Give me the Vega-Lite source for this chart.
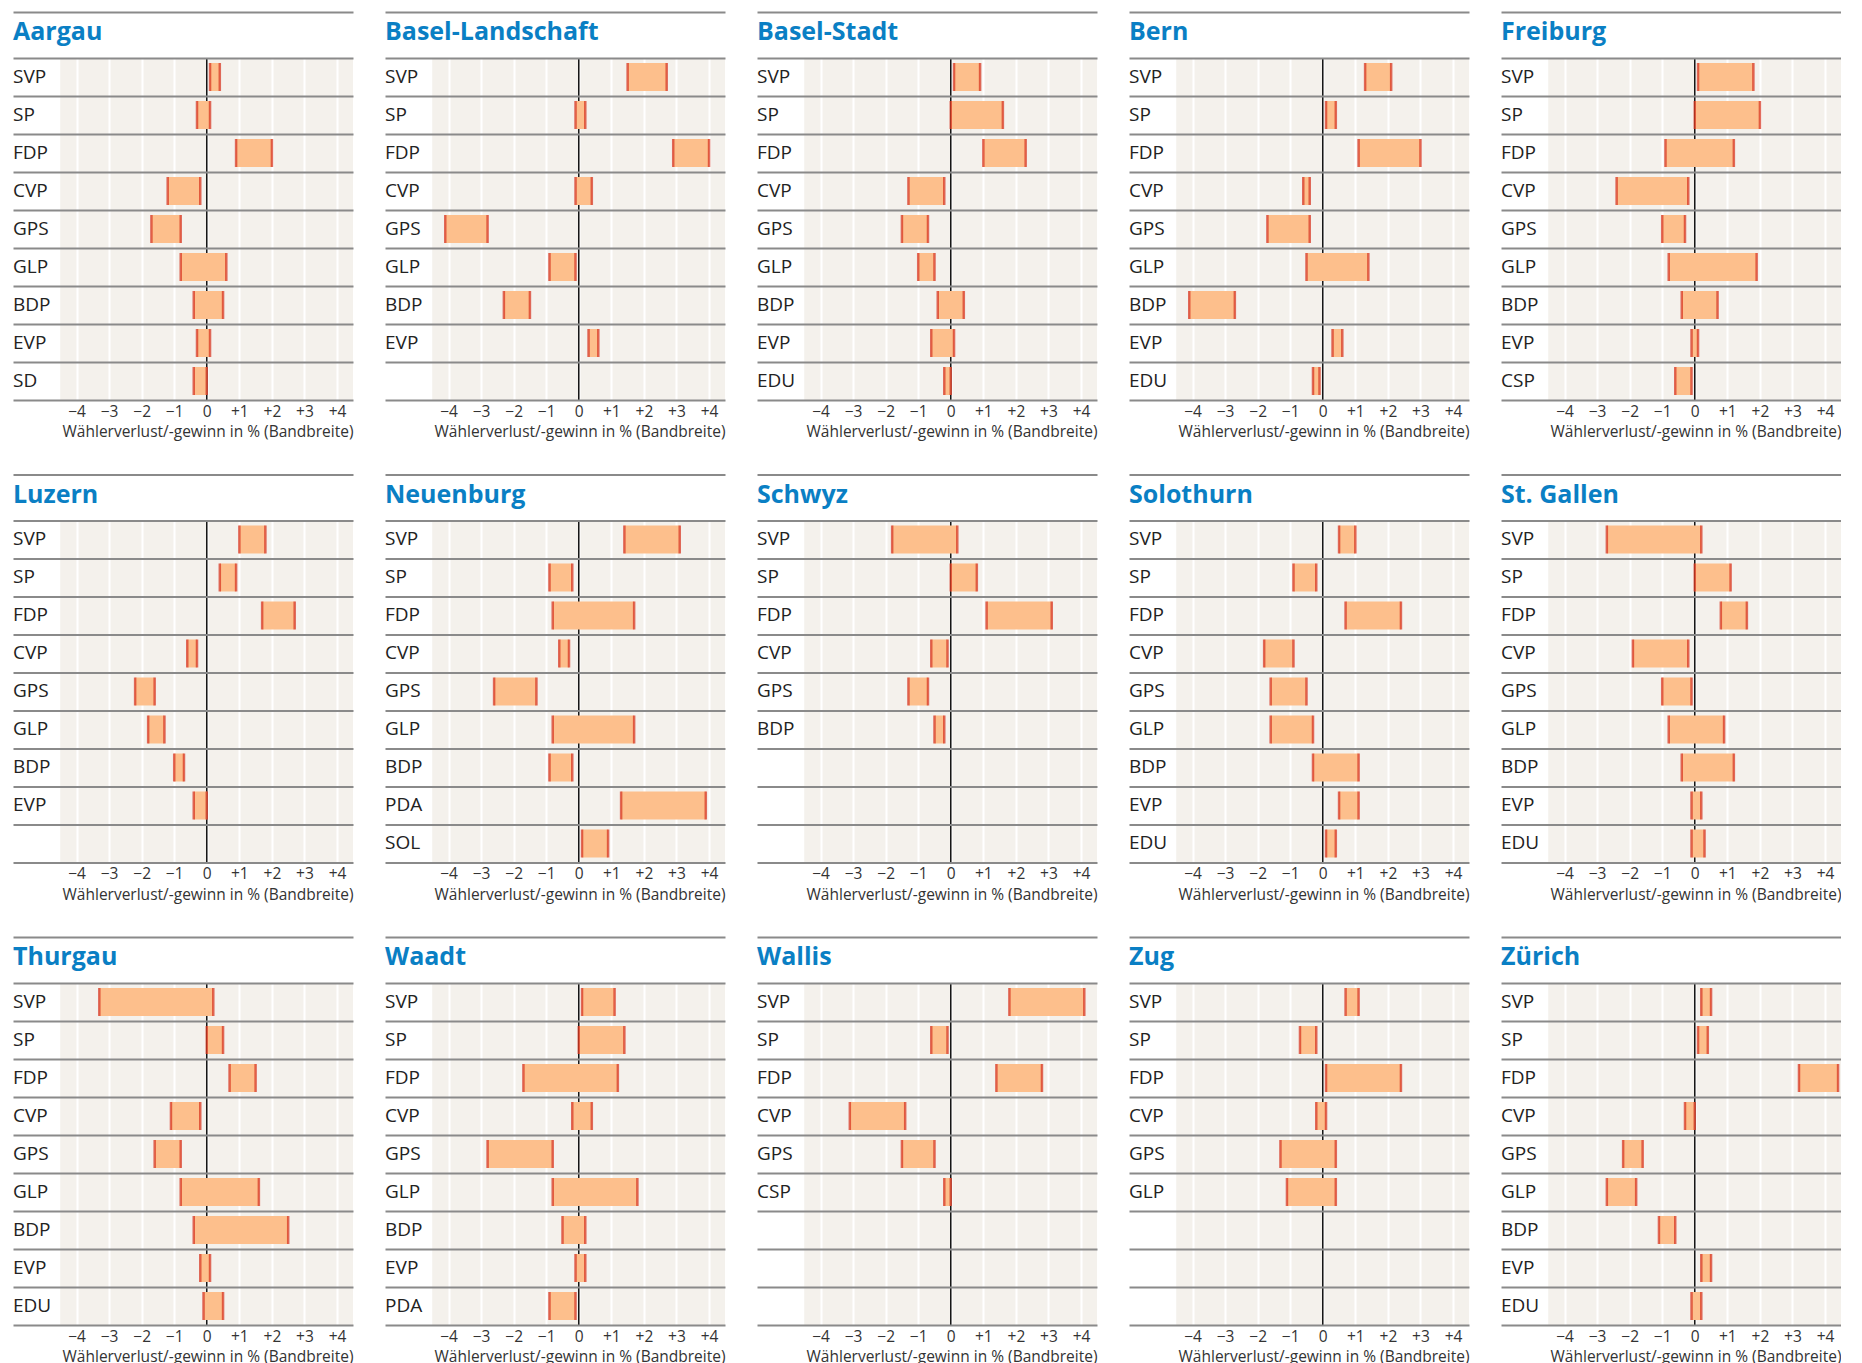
{
  "$schema": "https://vega.github.io/schema/vega-lite/v6.json",
  "padding": {"left": 13, "top": 11, "right": 0, "bottom": 0},
  "background": "white",
  "config": {"header": {"labels": false, "title": null, "labelFontSize": 0.01, "labelPadding": 0, "titlePadding": 0, "labelExpr": "''"}},
  "data": {"values": [
    {"c":"Aargau","r":1,"p":"SVP","lo":0.1,"hi":0.4},
    {"c":"Aargau","r":2,"p":"SP","lo":-0.3,"hi":0.1},
    {"c":"Aargau","r":3,"p":"FDP","lo":0.9,"hi":2.0},
    {"c":"Aargau","r":4,"p":"CVP","lo":-1.2,"hi":-0.2},
    {"c":"Aargau","r":5,"p":"GPS","lo":-1.7,"hi":-0.8},
    {"c":"Aargau","r":6,"p":"GLP","lo":-0.8,"hi":0.6},
    {"c":"Aargau","r":7,"p":"BDP","lo":-0.4,"hi":0.5},
    {"c":"Aargau","r":8,"p":"EVP","lo":-0.3,"hi":0.1},
    {"c":"Aargau","r":9,"p":"SD","lo":-0.4,"hi":0.0},
    {"c":"Basel-Landschaft","r":1,"p":"SVP","lo":1.5,"hi":2.7},
    {"c":"Basel-Landschaft","r":2,"p":"SP","lo":-0.1,"hi":0.2},
    {"c":"Basel-Landschaft","r":3,"p":"FDP","lo":2.9,"hi":4.0},
    {"c":"Basel-Landschaft","r":4,"p":"CVP","lo":-0.1,"hi":0.4},
    {"c":"Basel-Landschaft","r":5,"p":"GPS","lo":-4.1,"hi":-2.8},
    {"c":"Basel-Landschaft","r":6,"p":"GLP","lo":-0.9,"hi":-0.1},
    {"c":"Basel-Landschaft","r":7,"p":"BDP","lo":-2.3,"hi":-1.5},
    {"c":"Basel-Landschaft","r":8,"p":"EVP","lo":0.3,"hi":0.6},
    {"c":"Basel-Stadt","r":1,"p":"SVP","lo":0.1,"hi":0.9},
    {"c":"Basel-Stadt","r":2,"p":"SP","lo":0.0,"hi":1.6},
    {"c":"Basel-Stadt","r":3,"p":"FDP","lo":1.0,"hi":2.3},
    {"c":"Basel-Stadt","r":4,"p":"CVP","lo":-1.3,"hi":-0.2},
    {"c":"Basel-Stadt","r":5,"p":"GPS","lo":-1.5,"hi":-0.7},
    {"c":"Basel-Stadt","r":6,"p":"GLP","lo":-1.0,"hi":-0.5},
    {"c":"Basel-Stadt","r":7,"p":"BDP","lo":-0.4,"hi":0.4},
    {"c":"Basel-Stadt","r":8,"p":"EVP","lo":-0.6,"hi":0.1},
    {"c":"Basel-Stadt","r":9,"p":"EDU","lo":-0.2,"hi":0.0},
    {"c":"Bern","r":1,"p":"SVP","lo":1.3,"hi":2.1},
    {"c":"Bern","r":2,"p":"SP","lo":0.1,"hi":0.4},
    {"c":"Bern","r":3,"p":"FDP","lo":1.1,"hi":3.0},
    {"c":"Bern","r":4,"p":"CVP","lo":-0.6,"hi":-0.4},
    {"c":"Bern","r":5,"p":"GPS","lo":-1.7,"hi":-0.4},
    {"c":"Bern","r":6,"p":"GLP","lo":-0.5,"hi":1.4},
    {"c":"Bern","r":7,"p":"BDP","lo":-4.1,"hi":-2.7},
    {"c":"Bern","r":8,"p":"EVP","lo":0.3,"hi":0.6},
    {"c":"Bern","r":9,"p":"EDU","lo":-0.3,"hi":-0.1},
    {"c":"Freiburg","r":1,"p":"SVP","lo":0.1,"hi":1.8},
    {"c":"Freiburg","r":2,"p":"SP","lo":0.0,"hi":2.0},
    {"c":"Freiburg","r":3,"p":"FDP","lo":-0.9,"hi":1.2},
    {"c":"Freiburg","r":4,"p":"CVP","lo":-2.4,"hi":-0.2},
    {"c":"Freiburg","r":5,"p":"GPS","lo":-1.0,"hi":-0.3},
    {"c":"Freiburg","r":6,"p":"GLP","lo":-0.8,"hi":1.9},
    {"c":"Freiburg","r":7,"p":"BDP","lo":-0.4,"hi":0.7},
    {"c":"Freiburg","r":8,"p":"EVP","lo":-0.1,"hi":0.1},
    {"c":"Freiburg","r":9,"p":"CSP","lo":-0.6,"hi":-0.1},
    {"c":"Luzern","r":1,"p":"SVP","lo":1.0,"hi":1.8},
    {"c":"Luzern","r":2,"p":"SP","lo":0.4,"hi":0.9},
    {"c":"Luzern","r":3,"p":"FDP","lo":1.7,"hi":2.7},
    {"c":"Luzern","r":4,"p":"CVP","lo":-0.6,"hi":-0.3},
    {"c":"Luzern","r":5,"p":"GPS","lo":-2.2,"hi":-1.6},
    {"c":"Luzern","r":6,"p":"GLP","lo":-1.8,"hi":-1.3},
    {"c":"Luzern","r":7,"p":"BDP","lo":-1.0,"hi":-0.7},
    {"c":"Luzern","r":8,"p":"EVP","lo":-0.4,"hi":0.0},
    {"c":"Neuenburg","r":1,"p":"SVP","lo":1.4,"hi":3.1},
    {"c":"Neuenburg","r":2,"p":"SP","lo":-0.9,"hi":-0.2},
    {"c":"Neuenburg","r":3,"p":"FDP","lo":-0.8,"hi":1.7},
    {"c":"Neuenburg","r":4,"p":"CVP","lo":-0.6,"hi":-0.3},
    {"c":"Neuenburg","r":5,"p":"GPS","lo":-2.6,"hi":-1.3},
    {"c":"Neuenburg","r":6,"p":"GLP","lo":-0.8,"hi":1.7},
    {"c":"Neuenburg","r":7,"p":"BDP","lo":-0.9,"hi":-0.2},
    {"c":"Neuenburg","r":8,"p":"PDA","lo":1.3,"hi":3.9},
    {"c":"Neuenburg","r":9,"p":"SOL","lo":0.1,"hi":0.9},
    {"c":"Schwyz","r":1,"p":"SVP","lo":-1.8,"hi":0.2},
    {"c":"Schwyz","r":2,"p":"SP","lo":0.0,"hi":0.8},
    {"c":"Schwyz","r":3,"p":"FDP","lo":1.1,"hi":3.1},
    {"c":"Schwyz","r":4,"p":"CVP","lo":-0.6,"hi":-0.1},
    {"c":"Schwyz","r":5,"p":"GPS","lo":-1.3,"hi":-0.7},
    {"c":"Schwyz","r":6,"p":"BDP","lo":-0.5,"hi":-0.2},
    {"c":"Solothurn","r":1,"p":"SVP","lo":0.5,"hi":1.0},
    {"c":"Solothurn","r":2,"p":"SP","lo":-0.9,"hi":-0.2},
    {"c":"Solothurn","r":3,"p":"FDP","lo":0.7,"hi":2.4},
    {"c":"Solothurn","r":4,"p":"CVP","lo":-1.8,"hi":-0.9},
    {"c":"Solothurn","r":5,"p":"GPS","lo":-1.6,"hi":-0.5},
    {"c":"Solothurn","r":6,"p":"GLP","lo":-1.6,"hi":-0.3},
    {"c":"Solothurn","r":7,"p":"BDP","lo":-0.3,"hi":1.1},
    {"c":"Solothurn","r":8,"p":"EVP","lo":0.5,"hi":1.1},
    {"c":"Solothurn","r":9,"p":"EDU","lo":0.1,"hi":0.4},
    {"c":"St. Gallen","r":1,"p":"SVP","lo":-2.7,"hi":0.2},
    {"c":"St. Gallen","r":2,"p":"SP","lo":0.0,"hi":1.1},
    {"c":"St. Gallen","r":3,"p":"FDP","lo":0.8,"hi":1.6},
    {"c":"St. Gallen","r":4,"p":"CVP","lo":-1.9,"hi":-0.2},
    {"c":"St. Gallen","r":5,"p":"GPS","lo":-1.0,"hi":-0.1},
    {"c":"St. Gallen","r":6,"p":"GLP","lo":-0.8,"hi":0.9},
    {"c":"St. Gallen","r":7,"p":"BDP","lo":-0.4,"hi":1.2},
    {"c":"St. Gallen","r":8,"p":"EVP","lo":-0.1,"hi":0.2},
    {"c":"St. Gallen","r":9,"p":"EDU","lo":-0.1,"hi":0.3},
    {"c":"Thurgau","r":1,"p":"SVP","lo":-3.3,"hi":0.2},
    {"c":"Thurgau","r":2,"p":"SP","lo":0.0,"hi":0.5},
    {"c":"Thurgau","r":3,"p":"FDP","lo":0.7,"hi":1.5},
    {"c":"Thurgau","r":4,"p":"CVP","lo":-1.1,"hi":-0.2},
    {"c":"Thurgau","r":5,"p":"GPS","lo":-1.6,"hi":-0.8},
    {"c":"Thurgau","r":6,"p":"GLP","lo":-0.8,"hi":1.6},
    {"c":"Thurgau","r":7,"p":"BDP","lo":-0.4,"hi":2.5},
    {"c":"Thurgau","r":8,"p":"EVP","lo":-0.2,"hi":0.1},
    {"c":"Thurgau","r":9,"p":"EDU","lo":-0.1,"hi":0.5},
    {"c":"Waadt","r":1,"p":"SVP","lo":0.1,"hi":1.1},
    {"c":"Waadt","r":2,"p":"SP","lo":0.0,"hi":1.4},
    {"c":"Waadt","r":3,"p":"FDP","lo":-1.7,"hi":1.2},
    {"c":"Waadt","r":4,"p":"CVP","lo":-0.2,"hi":0.4},
    {"c":"Waadt","r":5,"p":"GPS","lo":-2.8,"hi":-0.8},
    {"c":"Waadt","r":6,"p":"GLP","lo":-0.8,"hi":1.8},
    {"c":"Waadt","r":7,"p":"BDP","lo":-0.5,"hi":0.2},
    {"c":"Waadt","r":8,"p":"EVP","lo":-0.1,"hi":0.2},
    {"c":"Waadt","r":9,"p":"PDA","lo":-0.9,"hi":-0.1},
    {"c":"Wallis","r":1,"p":"SVP","lo":1.8,"hi":4.1},
    {"c":"Wallis","r":2,"p":"SP","lo":-0.6,"hi":-0.1},
    {"c":"Wallis","r":3,"p":"FDP","lo":1.4,"hi":2.8},
    {"c":"Wallis","r":4,"p":"CVP","lo":-3.1,"hi":-1.4},
    {"c":"Wallis","r":5,"p":"GPS","lo":-1.5,"hi":-0.5},
    {"c":"Wallis","r":6,"p":"CSP","lo":-0.2,"hi":0.0},
    {"c":"Zug","r":1,"p":"SVP","lo":0.7,"hi":1.1},
    {"c":"Zug","r":2,"p":"SP","lo":-0.7,"hi":-0.2},
    {"c":"Zug","r":3,"p":"FDP","lo":0.1,"hi":2.4},
    {"c":"Zug","r":4,"p":"CVP","lo":-0.2,"hi":0.1},
    {"c":"Zug","r":5,"p":"GPS","lo":-1.3,"hi":0.4},
    {"c":"Zug","r":6,"p":"GLP","lo":-1.1,"hi":0.4},
    {"c":"Zürich","r":1,"p":"SVP","lo":0.2,"hi":0.5},
    {"c":"Zürich","r":2,"p":"SP","lo":0.1,"hi":0.4},
    {"c":"Zürich","r":3,"p":"FDP","lo":3.2,"hi":4.4},
    {"c":"Zürich","r":4,"p":"CVP","lo":-0.3,"hi":0.0},
    {"c":"Zürich","r":5,"p":"GPS","lo":-2.2,"hi":-1.6},
    {"c":"Zürich","r":6,"p":"GLP","lo":-2.7,"hi":-1.8},
    {"c":"Zürich","r":7,"p":"BDP","lo":-1.1,"hi":-0.6},
    {"c":"Zürich","r":8,"p":"EVP","lo":0.2,"hi":0.5},
    {"c":"Zürich","r":9,"p":"EDU","lo":-0.1,"hi":0.2}
  ]},
  "facet": {
    "field": "c", "type": "nominal",
    "sort": ["Aargau","Basel-Landschaft","Basel-Stadt","Bern","Freiburg","Luzern","Neuenburg","Schwyz","Solothurn","St. Gallen","Thurgau","Waadt","Wallis","Zug","Zürich"],
    "header": {"title": null, "labels": false, "labelFontSize": 0.01, "labelPadding": 0, "labelExpr": "''"}
  },
  "columns": 5,
  "spacing": {"row": 33.5, "column": 32},
  "resolve": {"axis": {"x": "independent", "y": "independent"}},
  "spec": {
    "width": 340,
    "height": 388,
    "view": {"fill": "#f4f1ec", "stroke": null},
    "layer": [
      {
        "transform": [{"filter": "datum.r == 1"}],
        "mark": {"type": "rect", "color": "white"},
        "encoding": {
          "x": {"datum": -5.95, "type": "quantitative"},
          "x2": {"datum": 4.49},
          "y": {"datum": -0.71, "type": "quantitative"},
          "y2": {"datum": 0.5}
        }
      },
      {
        "transform": [{"filter": "datum.r == 1"}],
        "mark": {"type": "rect", "color": "white"},
        "encoding": {
          "x": {"datum": -5.95, "type": "quantitative"},
          "x2": {"datum": -4.5},
          "y": {"datum": -0.71, "type": "quantitative"},
          "y2": {"datum": 9.5}
        }
      },
      {
        "transform": [{"filter": "datum.r == 1"}],
        "mark": {"type": "rule", "color": "#111", "strokeWidth": 1.5},
        "encoding": {
          "x": {"datum": 0, "type": "quantitative"},
          "y": {"datum": 0.5, "type": "quantitative"},
          "y2": {"datum": 9.5}
        }
      },
      {
        "mark": {"type": "bar", "orient": "horizontal", "size": 28, "color": "#fdbf8c"},
        "encoding": {
          "x": {
            "field": "lo", "type": "quantitative",
            "scale": {"domain": [-5.95, 4.49], "nice": false, "zero": false, "padding": 0},
            "axis": {
              "values": [-4,-3,-2,-1,0,1,2,3,4],
              "tickCount": 30,
              "labelExpr": "datum.value > 0 ? '+' + datum.value : (datum.value < 0 ? '\u2212' + abs(datum.value) : '0')",
              "grid": true, "gridColor": "white", "gridWidth": 2,
              "domain": false, "ticks": false,
              "labelPadding": 4, "labelFont": "Open Sans", "labelFontSize": 15.5, "labelColor": "#333",
              "title": "Wählerverlust/-gewinn in % (Bandbreite)",
              "titleFont": "Open Sans", "titleFontSize": 15.5, "titleFontWeight": "normal", "titleColor": "#333",
              "titleAnchor": "end", "titlePadding": 5
            }
          },
          "x2": {"field": "hi"},
          "y": {
            "field": "r", "type": "quantitative",
            "scale": {"domain": [-0.71, 9.5], "reverse": true, "nice": false, "zero": false, "padding": 0},
            "axis": {
              "values": [-0.71, 0.5, 1.5, 2.5, 3.5, 4.5, 5.5, 6.5, 7.5, 8.5, 9.5],
              "tickCount": 30,
              "grid": true, "gridColor": "#8a8a8a", "gridWidth": 2,
              "labels": false, "ticks": false, "domain": false, "title": null, "zindex": 1
            }
          }
        }
      },
      {
        "transform": [{"fold": ["lo", "hi"], "as": ["end", "v"]}],
        "mark": {"type": "tick", "orient": "vertical", "size": 28, "thickness": 2.5, "color": "#d62d1a"},
        "encoding": {
          "x": {"field": "v", "type": "quantitative"},
          "y": {"field": "r", "type": "quantitative"}
        }
      },
      {
        "mark": {"type": "text", "align": "left", "baseline": "middle", "font": "Open Sans", "fontSize": 19, "color": "#222"},
        "encoding": {
          "x": {"datum": -5.95, "type": "quantitative"},
          "y": {"field": "r", "type": "quantitative"},
          "text": {"field": "p"}
        }
      },
      {
        "transform": [{"filter": "datum.r == 1"}],
        "mark": {"type": "text", "align": "left", "baseline": "alphabetic", "font": "Open Sans", "fontSize": 25, "fontWeight": "bold", "color": "#0a7fc4"},
        "encoding": {
          "x": {"datum": -5.95, "type": "quantitative"},
          "y": {"datum": 0.034, "type": "quantitative"},
          "text": {"field": "c"}
        }
      }
    ]
  }
}
